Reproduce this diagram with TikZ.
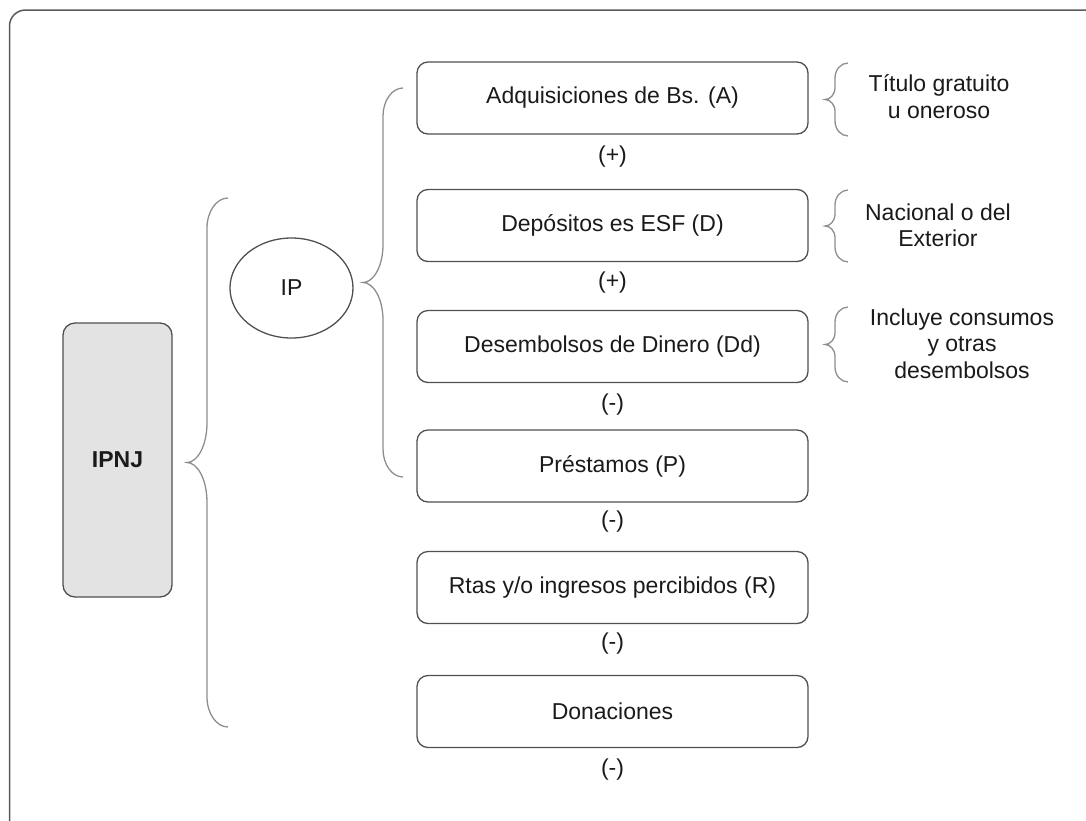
\documentclass[tikz,border=0pt]{standalone}
\usepackage{fontspec}
\setmainfont{Liberation Sans}
\usetikzlibrary{shapes.geometric}

\definecolor{framegray}{HTML}{5A5A5A}
\definecolor{boxgray}{HTML}{505050}
\definecolor{bracegray}{HTML}{8E8E8E}
\definecolor{fillgray}{HTML}{E3E3E3}
\definecolor{txt}{HTML}{1A1A1A}

\tikzset{
  item/.style={draw=boxgray, line width=1.3pt, rounded corners=11pt,
    minimum width=391pt, minimum height=72pt, inner sep=0pt, text=txt},
  sign/.style={text=txt, inner sep=0pt},
  note/.style={align=center, text=txt, inner sep=0pt},
  bracestyle/.style={draw=bracegray, line width=1.3pt},
}

% curly brace opening to the right:
% #1 x of the ends, #2 x of the spine, #3 x of the tip,
% #4 top y, #5 bottom y, #6 end bend, #7 tip bend
\newcommand{\curlybrace}[7]{%
  \pgfmathsetmacro{\bm}{(#4+#5)/2}%
  \pgfmathsetmacro{\bta}{#4+#6}%
  \pgfmathsetmacro{\bba}{#5-#6}%
  \pgfmathsetmacro{\btb}{\bm-#7}%
  \pgfmathsetmacro{\bbb}{\bm+#7}%
  \pgfmathsetmacro{\cxe}{#2+0.45*(#1-#2)}%
  \pgfmathsetmacro{\cxt}{#3+0.5*(#2-#3)}%
  \pgfmathsetmacro{\cyta}{#4+0.45*#6}%
  \pgfmathsetmacro{\cyba}{#5-0.45*#6}%
  \pgfmathsetmacro{\cytb}{\bm-0.4*#7}%
  \pgfmathsetmacro{\cybb}{\bm+0.4*#7}%
  \draw[bracestyle] (#1,#4) .. controls (\cxe,#4) and (#2,\cyta) .. (#2,\bta)
    -- (#2,\btb) .. controls (#2,\cytb) and (\cxt,\bm) .. (#3,\bm)
    .. controls (\cxt,\bm) and (#2,\cybb) .. (#2,\bbb)
    -- (#2,\bba) .. controls (#2,\cyba) and (\cxe,#5) .. (#1,#5);%
}

\begin{document}
\begin{tikzpicture}[x=1pt, y=-1pt, font=\fontsize{23}{26.5}\selectfont]
  \useasboundingbox (0,0) rectangle (1086,820);
  \clip (0,0) rectangle (1086,820);

  % outer frame
  \draw[framegray, line width=1.5pt, rounded corners=16pt] (9.5,10) rectangle (1130,860);

  % main concept
  \node[draw=boxgray, fill=fillgray, line width=1.3pt, rounded corners=12pt,
        minimum width=109pt, minimum height=274pt, inner sep=0pt, text=txt,
        font=\fontsize{23}{26.5}\selectfont\bfseries] (ipnj) at (117.5,460) {IPNJ};

  \node[ellipse, draw=boxgray, line width=1.3pt, minimum width=123pt,
        minimum height=100pt, inner sep=0pt, text=txt] (ip) at (291.5,288) {IP};

  % components
  \node[item] (adq) at (612.5,98)    {Adquisiciones de Bs. (A)};
  \node[item] (dep) at (612.5,225.5) {Depósitos es ESF (D)};
  \node[item] (des) at (612.5,346.5) {Desembolsos de Dinero (Dd)};
  \node[item] (pre) at (612.5,466)   {Préstamos (P)};
  \node[item] (rta) at (612.5,587.5) {Rtas y/o ingresos percibidos (R)};
  \node[item] (don) at (612.5,711.5) {Donaciones};

  % signs under each component
  \node[sign] (s1) at (612.5,157) {(+)};
  \node[sign] (s2) at (612.5,283) {(+)};
  \node[sign] (s3) at (612.5,405) {(-)};
  \node[sign] (s4) at (612.5,522) {(-)};
  \node[sign] (s5) at (612.5,644) {(-)};
  \node[sign] (s6) at (612.5,770) {(-)};

  % notes
  \node[note] (n1) at (939,96.5)  {Título gratuito\\u oneroso};
  \node[note] (n2) at (938,225.5) {Nacional o del\\Exterior};
  \node[note] (n3) at (962,343.5) {Incluye consumos\\y otras\\desembolsos};

  % braces
  \curlybrace{228}{207}{187}{198}{727}{30}{40}
  \curlybrace{403}{383}{363}{88}{477}{28}{38}
  \curlybrace{848}{835}{825}{63}{136}{15}{12}
  \curlybrace{848}{835}{825}{190}{262}{15}{12}
  \curlybrace{848}{835}{825}{307}{382}{15}{12}
\end{tikzpicture}
\end{document}
